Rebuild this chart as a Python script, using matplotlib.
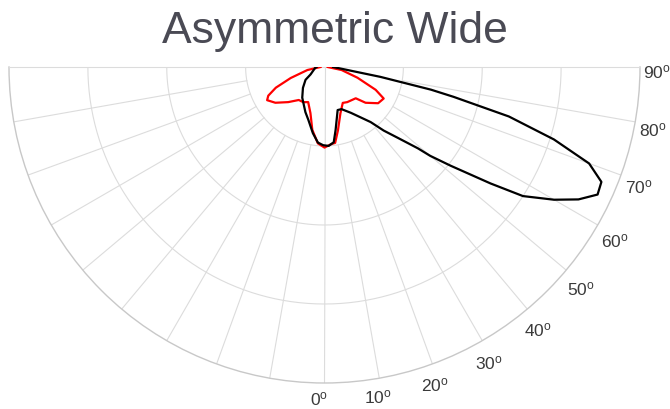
import numpy as np
import matplotlib
matplotlib.use("Agg")
import matplotlib.pyplot as plt

plt.rcParams['font.family'] = ['Liberation Sans', 'DejaVu Sans']
plt.rcParams['mathtext.default'] = 'regular'

title = "Asymmetric Wide"

# black curve: angle (deg, 0 = straight down, + = right) and relative intensity
black_deg = [-90, -84, -62, -56, -46, -36, -23, -17, -10, -5, -1, 3, 7, 10,
             17, 22, 30, 40, 43, 46, 49, 50, 52, 55, 57, 60, 62.5, 65, 67.5,
             70, 72.5, 75, 77, 78, 80, 81, 90]
black_val = [0.10, 0.12, 0.20, 0.29, 0.38, 0.48, 0.62, 0.70, 0.85, 0.96, 0.99,
             1.00, 0.96, 0.81, 0.57, 0.575, 0.67, 0.91, 1.10, 1.29, 1.57, 1.75,
             2.03, 2.57, 3.00, 3.36, 3.63, 3.82, 3.80, 3.57, 3.05, 2.42, 1.68,
             1.38, 0.72, 0.46, 0.11]

# red curve
red_deg = [-90, -80, -72, -67, -63, -60, -54, -46, -38, -31, -25, -17, -11,
           -5, 0, 5, 8, 12, 19, 27, 33, 45, 49, 56, 62, 66, 72, 80, 90]
red_val = [0.05, 0.22, 0.45, 0.67, 0.80, 0.84, 0.77, 0.64, 0.53, 0.52, 0.49,
           0.61, 0.81, 0.97, 1.02, 0.98, 0.97, 0.82, 0.62, 0.51, 0.53, 0.56,
           0.69, 0.82, 0.85, 0.71, 0.44, 0.22, 0.04]

tick_deg = [0, 10, 20, 30, 40, 50, 60, 70, 80, 90]
rings = [1, 2, 3]
r_max = 4

grid_c = '#dcdcdc'

fig = plt.figure(figsize=(6.7, 4.09), dpi=100)
# the half-disc only uses the middle half of the box height, so the box is
# made twice as tall as the wedge (wedge top at y=67px, radius 316px)
ax = fig.add_axes([9 / 670, -132 / 409, 631 / 670, 632 / 409], projection='polar')
ax.set_theta_zero_location('S')
ax.set_theta_direction(1)
ax.set_thetamin(-90)
ax.set_thetamax(90)
ax.set_ylim(0, r_max)
ax.set_aspect('auto')
ax.grid(False)
ax.set_xticks([])
ax.set_yticks([])
ax.spines['polar'].set_color('#c8c8c8')
ax.spines['polar'].set_linewidth(1.0)
ax.spines['start'].set_color(grid_c)
ax.spines['end'].set_color(grid_c)
ax.spines['inner'].set_visible(False)

# rings and spokes
arc = np.radians(np.linspace(-90, 90, 361))
for r in rings:
    ax.plot(arc, np.full_like(arc, r), color=grid_c, lw=0.8, zorder=1)
for a in range(-80, 81, 10):
    r0 = 0 if a == 0 else 1
    ax.plot([np.radians(a)] * 2, [r0, r_max], color=grid_c, lw=0.8, zorder=1)

ax.plot(np.radians(red_deg), red_val, color='#ff0000', lw=1.6, zorder=3)
ax.plot(np.radians(black_deg), black_val, color='black', lw=1.6, zorder=4)

for d in tick_deg:
    th = np.radians(d - 0.9)
    ax.text(th, 4.21 + 0.09 * np.sin(2 * th), f"{d}$^{{o}}$", ha='center',
            va='center', fontsize=12.5, color='#3a3a3a', clip_on=False)

fig.text(0.5, 1 - 32 / 409, title, ha='center', va='center', fontsize=32,
         color='#4a4a54')

fig.savefig('out.png', dpi=100)
